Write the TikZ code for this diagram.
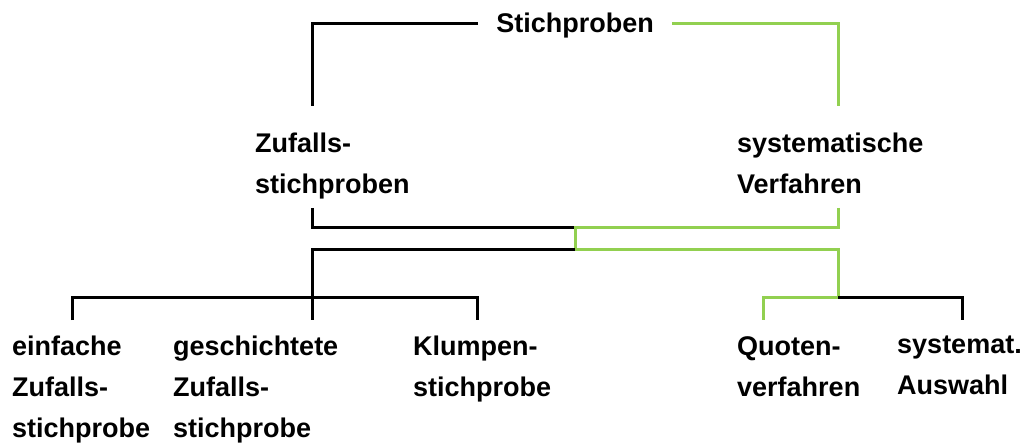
\documentclass[tikz,border=0pt]{standalone}
\usepackage{fontspec}
\setmainfont{Liberation Sans}
\begin{document}
\begin{tikzpicture}[x=1pt,y=-1pt,
  lbl/.style={inner sep=0pt, align=left, anchor=north west,
    font=\fontsize{27pt}{41pt}\selectfont\bfseries},
  blk/.style={draw=black, line width=3pt},
  grn/.style={draw=lgreen, line width=3pt}]
\definecolor{lgreen}{RGB}{146,208,80}
\useasboundingbox (0,0) rectangle (1024,443);
% labels
\node[lbl, anchor=base] (root) at (575,33) {Stichproben};
\node[lbl] (zs) at (255,133) {Zufalls-\\stichproben};
\node[lbl] (sv) at (737,133) {systematische\\Verfahren};
\node[lbl] (ez) at (12,336) {einfache\\Zufalls-\\stichprobe};
\node[lbl] (gz) at (173,336) {geschichtete\\Zufalls-\\stichprobe};
\node[lbl] (kl) at (413,336) {Klumpen-\\stichprobe};
\node[lbl] (qv) at (737,336) {Quoten-\\verfahren};
\node[lbl] (sa) at (897,336) {systemat.\\Auswahl};
% junction points
\coordinate (tl) at (312,24);
\coordinate (tr) at (838,24);
\coordinate (rl) at (478,24);
\coordinate (rr) at (672,24);
\coordinate (zsT) at (312,106);
\coordinate (svT) at (838,106);
\coordinate (zsB) at (312,208);
\coordinate (svB) at (838,208);
\coordinate (m1l) at (312,228);
\coordinate (m1c) at (575,228);
\coordinate (m1r) at (838,228);
\coordinate (m2l) at (312,250);
\coordinate (m2c) at (575,250);
\coordinate (m2r) at (838,250);
\coordinate (bl) at (312,297);
\coordinate (br) at (838,297);
\coordinate (ezT) at (72,320);
\coordinate (gzT) at (312,320);
\coordinate (klT) at (477,320);
\coordinate (qvT) at (763,320);
\coordinate (saT) at (962,320);
% connectors
\draw[blk] (rl) -- (tl) -- (zsT);
\draw[grn] (rr) -- (tr) -- (svT);
\draw[blk] (zsB) -- (m1l) -- (m1c);
\draw[grn] (svB) -- (m1r) -- (m1c) -- (m2c) -- (m2r) -- (br);
\draw[blk] (m2c) -- (m2l) -- (gzT);
\draw[blk] (ezT) |- (bl) -| (klT);
\draw[grn] (br) -| (qvT);
\draw[blk] (br) -| (saT);
\end{tikzpicture}
\end{document}
